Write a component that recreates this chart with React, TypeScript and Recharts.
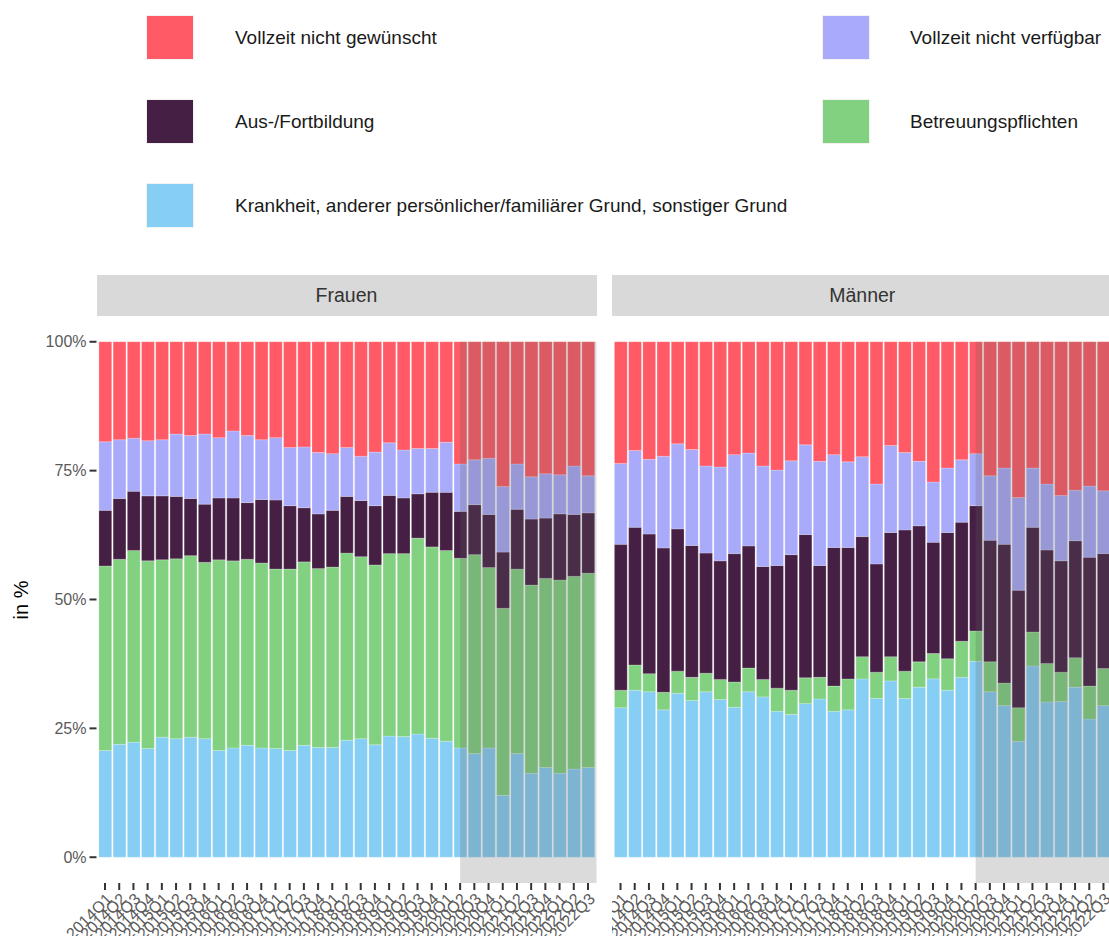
import React from "react";
import { BarChart, Bar, XAxis, YAxis, ReferenceArea } from "recharts";

// Quartale 2014Q1 - 2022Q3
const QUARTERS = [
  "2014Q1", "2014Q2", "2014Q3", "2014Q4",
  "2015Q1", "2015Q2", "2015Q3", "2015Q4",
  "2016Q1", "2016Q2", "2016Q3", "2016Q4",
  "2017Q1", "2017Q2", "2017Q3", "2017Q4",
  "2018Q1", "2018Q2", "2018Q3", "2018Q4",
  "2019Q1", "2019Q2", "2019Q3", "2019Q4",
  "2020Q1", "2020Q2", "2020Q3", "2020Q4",
  "2021Q1", "2021Q2", "2021Q3", "2021Q4",
  "2022Q1", "2022Q2", "2022Q3",
];
const SHADE_FROM = "2020Q2";

// Frauen (Anteile in %)
const frauenKrankheit = [20.7, 21.9, 22.3, 21.1, 23.3, 23.0, 23.3, 23.0, 20.7, 21.2, 21.7, 21.2, 21.1, 20.7, 21.7, 21.3, 21.3, 22.7, 23.0, 21.8, 23.5, 23.4, 23.9, 23.1, 22.5, 21.2, 20.1, 21.2, 12.0, 20.1, 16.3, 17.4, 16.3, 17.1, 17.4];
const frauenBetreuung = [35.8, 35.9, 37.2, 36.4, 34.4, 34.9, 35.2, 34.2, 37.0, 36.3, 36.1, 35.9, 34.8, 35.2, 35.6, 34.7, 35.0, 36.3, 35.3, 34.9, 35.4, 35.5, 38.0, 37.1, 37.0, 36.8, 38.6, 35.0, 36.3, 35.8, 36.5, 36.7, 37.5, 37.4, 37.7];
const frauenAusbildung = [10.8, 11.8, 11.5, 12.6, 12.4, 12.1, 11.1, 11.3, 12.0, 12.2, 11.0, 12.3, 13.4, 12.3, 10.5, 10.6, 11.0, 11.0, 10.9, 11.5, 11.3, 10.8, 8.6, 10.6, 11.3, 9.1, 9.7, 10.3, 10.9, 11.6, 12.8, 11.7, 12.8, 12.0, 11.7];
const frauenNichtVerfuegbar = [13.3, 11.4, 10.3, 10.7, 10.9, 12.1, 12.2, 13.6, 11.7, 13.0, 13.0, 11.6, 12.1, 11.3, 11.8, 11.9, 11.0, 9.5, 8.6, 10.4, 10.2, 9.3, 8.8, 8.5, 9.7, 9.2, 8.7, 10.9, 12.7, 8.8, 8.2, 8.6, 7.6, 9.4, 7.2];
const frauenNichtGewuenscht = [19.4, 19.0, 18.7, 19.2, 19.0, 17.9, 18.2, 17.9, 18.6, 17.3, 18.2, 19.0, 18.6, 20.5, 20.4, 21.5, 21.7, 20.5, 22.2, 21.4, 19.6, 21.0, 20.7, 20.7, 19.5, 23.7, 22.9, 22.6, 28.1, 23.7, 26.2, 25.6, 25.8, 24.1, 26.0];

// Männer (Anteile in %)
const maennerKrankheit = [29.0, 32.4, 32.1, 28.6, 31.8, 30.4, 32.1, 30.6, 29.1, 32.1, 31.1, 28.3, 27.7, 29.8, 30.7, 28.3, 28.6, 34.6, 30.8, 34.2, 30.8, 33.0, 34.6, 32.4, 34.9, 38.0, 32.1, 29.4, 22.5, 37.1, 30.1, 30.2, 33.0, 26.8, 29.4];
const maennerBetreuung = [3.4, 4.9, 3.5, 3.4, 4.3, 4.5, 3.6, 3.9, 4.9, 4.6, 3.4, 4.5, 4.7, 5.0, 4.2, 4.9, 6.0, 4.3, 5.1, 4.7, 5.3, 4.9, 4.9, 6.1, 7.0, 5.9, 5.8, 4.4, 6.5, 6.6, 7.5, 5.7, 5.7, 6.4, 7.2];
const maennerAusbildung = [28.3, 26.7, 27.1, 28.0, 27.6, 25.6, 23.3, 23.0, 24.9, 23.7, 21.9, 23.8, 26.3, 27.8, 21.7, 26.9, 25.5, 23.3, 21.0, 24.1, 27.4, 26.4, 21.6, 24.5, 23.1, 24.3, 23.6, 26.9, 22.8, 20.3, 22.0, 21.6, 22.7, 25.0, 22.3];
const maennerNichtVerfuegbar = [15.7, 14.9, 14.5, 17.8, 16.5, 18.6, 16.9, 18.2, 19.2, 18.0, 19.5, 18.5, 18.2, 17.4, 20.2, 18.0, 16.6, 15.5, 15.5, 16.9, 15.0, 12.5, 11.7, 12.5, 12.1, 10.1, 12.5, 14.8, 18.0, 11.5, 12.8, 12.7, 9.8, 13.8, 12.2];
const maennerNichtGewuenscht = [23.6, 21.1, 22.8, 22.2, 19.8, 20.9, 24.1, 24.3, 21.9, 21.6, 24.1, 24.9, 23.1, 20.0, 23.2, 21.9, 23.3, 22.3, 27.6, 20.1, 21.5, 23.2, 27.2, 24.5, 22.9, 21.7, 26.0, 24.5, 30.2, 24.5, 27.6, 29.8, 28.8, 28.0, 28.9];

const Y_TICKS = [0, 25, 50, 75, 100];

// Stapelreihenfolge: von unten nach oben
const SERIES = [
  { key: "krankheit", name: "Krankheit, anderer persönlicher/familiärer Grund, sonstiger Grund", color: "#86CEF4" },
  { key: "betreuung", name: "Betreuungspflichten", color: "#82D181" },
  { key: "ausbildung", name: "Aus-/Fortbildung", color: "#462044" },
  { key: "nichtVerfuegbar", name: "Vollzeit nicht verfügbar", color: "#A9AAFA" },
  { key: "nichtGewuenscht", name: "Vollzeit nicht gewünscht", color: "#FF5A66" },
];

// Legendenreihenfolge wie im Original (zeilenweise, 2 Spalten)
const LEGEND_ORDER = ["nichtGewuenscht", "nichtVerfuegbar", "ausbildung", "betreuung", "krankheit"];

function buildData(k: number[], b: number[], a: number[], v: number[], g: number[]) {
  return QUARTERS.map((q, i) => ({
    pos: i + 1,
    quarter: q,
    krankheit: k[i],
    betreuung: b[i],
    ausbildung: a[i],
    nichtVerfuegbar: v[i],
    nichtGewuenscht: g[i],
  }));
}

const frauenData = buildData(frauenKrankheit, frauenBetreuung, frauenAusbildung, frauenNichtVerfuegbar, frauenNichtGewuenscht);
const maennerData = buildData(maennerKrankheit, maennerBetreuung, maennerAusbildung, maennerNichtVerfuegbar, maennerNichtGewuenscht);

const FONT = "'Liberation Sans', Arial, Helvetica, sans-serif";
const PANEL_W = 500;
const PANEL_TOP = 316;
const CHART_H = 620;
const X_AXIS_H = 53;
const Y_AXIS_W = 96.5;
const TICK_COLOR = "#333333";
const LABEL_COLOR = "#5a5a5a";

// eslint-disable-next-line @typescript-eslint/no-explicit-any
const XTick = (props: any) => {
  const { x, y, payload } = props;
  return (
    <text
      x={x}
      y={y}
      dy="0.71em"
      textAnchor="end"
      fontSize={16}
      fontFamily={FONT}
      fill={LABEL_COLOR}
      transform={`rotate(-45, ${x}, ${y})`}
    >
      {QUARTERS[payload.value - 1]}
    </text>
  );
};

interface PanelProps {
  title: string;
  // eslint-disable-next-line @typescript-eslint/no-explicit-any
  data: any[];
  left: number;
  showYAxis: boolean;
}

function Panel({ title, data, left, showYAxis }: PanelProps) {
  const yW = showYAxis ? Y_AXIS_W : 0;
  const shadeStart = QUARTERS.indexOf(SHADE_FROM) + 1;
  return (
    <>
      <div
        style={{
          position: "absolute",
          left,
          top: 275,
          width: PANEL_W,
          height: 41,
          background: "#D9D9D9",
          color: "#333333",
          fontSize: 19.5,
          lineHeight: "41px",
          textAlign: "center",
        }}
      >
        {title}
      </div>
      <div style={{ position: "absolute", left: left - yW, top: PANEL_TOP }}>
        <BarChart
          width={yW + PANEL_W}
          height={CHART_H}
          data={data}
          margin={{ top: 0, right: 0, bottom: 0, left: 0 }}
        >
          <XAxis
            dataKey="pos"
            type="number"
            domain={[0.4, QUARTERS.length + 0.6]}
            ticks={data.map((d) => d.pos)}
            interval={0}
            height={X_AXIS_H}
            axisLine={false}
            tickSize={7}
            tickLine={{ stroke: TICK_COLOR, strokeWidth: 2 }}
            tick={<XTick />}
          />
          <YAxis
            type="number"
            domain={[-5, 105]}
            ticks={Y_TICKS}
            hide={!showYAxis}
            width={Y_AXIS_W}
            axisLine={false}
            tickSize={7}
            tickMargin={3}
            tickLine={{ stroke: TICK_COLOR, strokeWidth: 2 }}
            tick={{ fontSize: 16, fill: LABEL_COLOR, fontFamily: FONT }}
            tickFormatter={(v: number) => `${v}%`}
          />
          {SERIES.map((s) => (
            <Bar
              key={s.key}
              dataKey={s.key}
              name={s.name}
              stackId="a"
              fill={s.color}
              stroke="#ffffff"
              strokeOpacity={0.35}
              strokeWidth={0.6}
              barSize={12.8}
              isAnimationActive={false}
            />
          ))}
          <ReferenceArea
            x1={shadeStart}
            y1={-5}
            y2={100}
            fill="#5a5a5a"
            fillOpacity={0.22}
            stroke="none"
            ifOverflow="extendDomain"
            zIndex={450}
          />
        </BarChart>
      </div>
    </>
  );
}

function Legend() {
  return (
    <>
      {LEGEND_ORDER.map((key, i) => {
        const s = SERIES.find((x) => x.key === key)!;
        const col = i % 2;
        const row = Math.floor(i / 2);
        const keyX = col === 0 ? 146 : 822;
        const textX = col === 0 ? 235 : 910;
        const top = 15 + row * 84;
        return (
          <React.Fragment key={key}>
            <div
              style={{
                position: "absolute",
                left: keyX,
                top,
                width: 48,
                height: 45,
                background: s.color,
                boxSizing: "border-box",
                border: "1.5px solid #f2f2f2",
              }}
            />
            <div
              style={{
                position: "absolute",
                left: textX,
                top,
                height: 45,
                lineHeight: "45px",
                fontSize: 19,
                color: "#1a1a1a",
                whiteSpace: "nowrap",
              }}
            >
              {s.name}
            </div>
          </React.Fragment>
        );
      })}
    </>
  );
}

export default function App() {
  return (
    <div
      style={{
        position: "absolute",
        left: 0,
        top: 0,
        width: 1109,
        height: 936,
        overflow: "hidden",
        background: "#ffffff",
        fontFamily: FONT,
      }}
    >
      <Legend />
      <div
        style={{
          position: "absolute",
          left: 21,
          top: 600,
          transform: "translate(-50%, -50%) rotate(-90deg)",
          fontSize: 20,
          color: "#000000",
          whiteSpace: "nowrap",
        }}
      >
        in %
      </div>
      <Panel title="Frauen" data={frauenData} left={Y_AXIS_W} showYAxis />
      <Panel title="Männer" data={maennerData} left={612.3} showYAxis={false} />
    </div>
  );
}
